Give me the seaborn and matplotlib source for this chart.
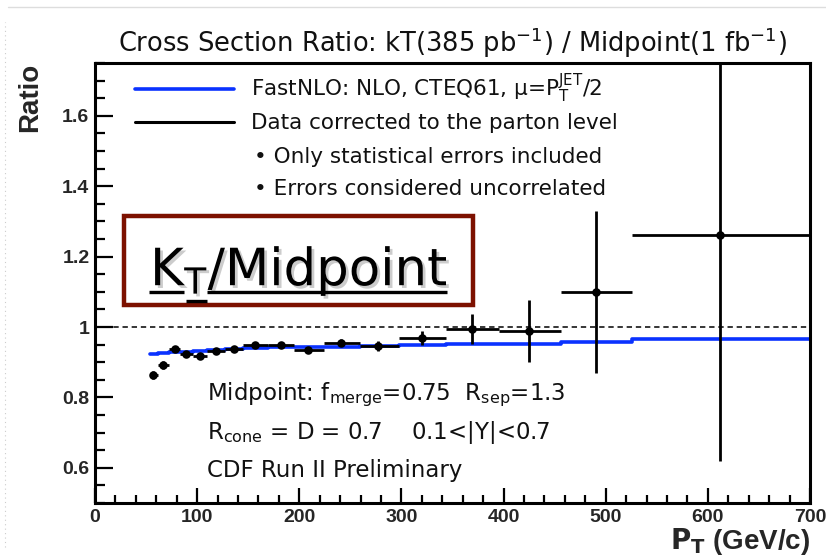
import matplotlib
matplotlib.use("Agg")
import matplotlib.pyplot as plt
import matplotlib.patheffects as pe
from matplotlib.lines import Line2D
from matplotlib.patches import Rectangle
from matplotlib.ticker import MultipleLocator, FixedLocator, FixedFormatter
import seaborn as sns
import pandas as pd

# ---------------- data ----------------
bin_lo = [54, 62, 72, 83, 96, 110, 127, 145, 169, 195, 224, 259, 298, 344, 396, 456, 526]
bin_hi = [62, 72, 83, 96, 110, 127, 145, 169, 195, 224, 259, 298, 344, 396, 456, 526, 700]
pt_center = [57, 67, 78, 89, 103, 118, 136, 157, 182, 209, 241, 277, 320, 369, 425, 490, 612]
ratio_data = [0.864, 0.892, 0.938, 0.923, 0.918, 0.932, 0.938, 0.949, 0.949, 0.935,
              0.955, 0.946, 0.969, 0.994, 0.989, 1.099, 1.26]
ratio_err = [0.012, 0.011, 0.009, 0.009, 0.009, 0.008, 0.008, 0.008, 0.008, 0.009,
             0.010, 0.015, 0.021, 0.042, 0.088, 0.23, 0.64]
ratio_nlo = [0.924, 0.925, 0.928, 0.930, 0.932, 0.934, 0.937, 0.940, 0.942, 0.943,
             0.944, 0.945, 0.948, 0.952, 0.953, 0.957, 0.966]

xticks = [0, 100, 200, 300, 400, 500, 600, 700]
xtick_labels = ["0", "100", "200", "300", "400", "500", "600", "700"]
yticks = [0.6, 0.8, 1.0, 1.2, 1.4, 1.6]
ytick_labels = ["0.6", "0.8", "1", "1.2", "1.4", "1.6"]

title = r"Cross Section Ratio: kT(385 pb$^{-1}$) / Midpoint(1 fb$^{-1}$)"
legend_labels = [r"FastNLO: NLO, CTEQ61, μ=P$_T^{JET}$/2",
                 "Data corrected to the parton level"]
note_lines = ["• Only statistical errors included",
              "• Errors considered uncorrelated"]
info_lines = [r"Midpoint: f$_{merge}$=0.75  R$_{sep}$=1.3",
              r"R$_{cone}$ = D = 0.7    0.1<|Y|<0.7",
              "CDF Run II Preliminary"]

# ---------------- style ----------------
sns.set_theme(style="ticks")
plt.rcParams["font.family"] = ["DejaVu Sans"]
plt.rcParams["mathtext.default"] = "regular"
plt.rcParams["axes.linewidth"] = 2.2

BLUE = "#0a32ff"
fig = plt.figure(figsize=(8.26, 5.58), dpi=100)
ax = fig.add_axes([95/826, 1-503/558, (810-95)/826, (503-63)/558])

# theory step line
nlo_df = pd.DataFrame({"pt": bin_lo + [bin_hi[-1]], "ratio": ratio_nlo + [ratio_nlo[-1]]})
sns.lineplot(data=nlo_df, x="pt", y="ratio", ax=ax, color=BLUE, lw=2.6,
             drawstyle="steps-post", estimator=None, zorder=2)

# reference line at 1
ax.axhline(1.0, color="black", lw=1.1, ls=(0, (3.5, 2.5)), zorder=1)

# data
df = pd.DataFrame({"pt": pt_center, "ratio": ratio_data, "err": ratio_err,
                   "lo": bin_lo, "hi": bin_hi})
xerr = [df["pt"] - df["lo"], df["hi"] - df["pt"]]
ax.errorbar(df["pt"], df["ratio"], xerr=xerr, yerr=df["err"], fmt="none",
            ecolor="black", elinewidth=2.0, capsize=0, zorder=3)
sns.scatterplot(data=df, x="pt", y="ratio", ax=ax, color="black", s=38,
                edgecolor="black", linewidth=0, zorder=4)

ax.set_xlim(0, 700)
ax.set_ylim(0.5, 1.75)

# ticks
ax.xaxis.set_major_locator(FixedLocator(xticks))
ax.xaxis.set_major_formatter(FixedFormatter(xtick_labels))
ax.xaxis.set_minor_locator(MultipleLocator(20))
ax.yaxis.set_major_locator(FixedLocator(yticks))
ax.yaxis.set_major_formatter(FixedFormatter(ytick_labels))
ax.yaxis.set_minor_locator(MultipleLocator(0.05))
ax.tick_params(axis="both", which="both", direction="in", top=False, right=False,
               width=1.6, color="black")
ax.tick_params(axis="x", which="major", length=11, pad=4)
ax.tick_params(axis="x", which="minor", length=6)
ax.tick_params(axis="y", which="major", length=13, pad=4)
ax.tick_params(axis="y", which="minor", length=7)
for lab in ax.get_xticklabels() + ax.get_yticklabels():
    lab.set_fontfamily("Liberation Sans")
    lab.set_fontweight("bold")
    lab.set_fontsize(14)
for sp in ax.spines.values():
    sp.set_visible(True)
    sp.set_linewidth(2.2)
    sp.set_color("black")

# axis labels
ax.set_ylabel("Ratio", fontfamily="Liberation Sans", fontweight="bold",
              fontsize=20, loc="top")
ax.yaxis.set_label_coords(-0.072, 1.0)
ax.set_xlabel(r"$\mathbf{P_T}$ (GeV/c)", fontfamily="Liberation Sans",
              fontweight="bold", fontsize=20, loc="right")
ax.xaxis.set_label_coords(1.0, -0.052)
ax.xaxis.label.set_va("top")

ax.set_title(title, fontsize=18.5, color="#111111", pad=8)

# legend
handles = [Line2D([], [], color=BLUE, lw=2.6),
           Line2D([], [], color="black", lw=2.2)]
leg = ax.legend(handles, legend_labels, loc="upper left",
                bbox_to_anchor=(0.056, 0.98), frameon=False, fontsize=15.5,
                handlelength=4.6, handletextpad=0.8, labelspacing=0.38,
                borderpad=0, borderaxespad=0)
for t in leg.get_texts():
    t.set_color("#111111")
for line, y in zip(note_lines, [0.786, 0.714]):
    ax.text(0.222, y, line, transform=ax.transAxes, fontsize=15.5,
            va="center", ha="left", color="#111111")

# info text
for i, line in enumerate(info_lines):
    ax.text(0.157, 0.245 - i * 0.085, line, transform=ax.transAxes, fontsize=16.5,
            va="center", ha="left", color="#111111")

# KT / Midpoint box
ax.add_patch(Rectangle((0.041, 0.45), 0.488, 0.202, transform=ax.transAxes,
                       facecolor="white", edgecolor="#7d1100", lw=3.2, zorder=5))
shadow = [pe.withSimplePatchShadow(offset=(2, -2), shadow_rgbFace="#9a9a9a", alpha=0.5)]
ax.text(0.077, 0.495, r"K$_T$/Midpoint", transform=ax.transAxes, fontsize=37,
        ha="left", va="baseline", color="black", zorder=6, path_effects=shadow)
for (x0, x1, y) in [(0.076, 0.124, 0.480), (0.127, 0.157, 0.460), (0.157, 0.493, 0.480)]:
    ax.add_line(Line2D([x0, x1], [y, y], transform=ax.transAxes, color="black",
                       lw=2.4, zorder=6, solid_capstyle="butt"))

# faint page borders of the screenshot
fig.add_artist(Line2D([0.01, 1.0], [1 - 7/558, 1 - 7/558], color="#dddddd", lw=1.0))
fig.add_artist(Line2D([5/826, 5/826], [0.02, 0.96], color="#cccccc", lw=0.8, ls=(0, (1, 3))))

fig.savefig("out.png", dpi=100)
